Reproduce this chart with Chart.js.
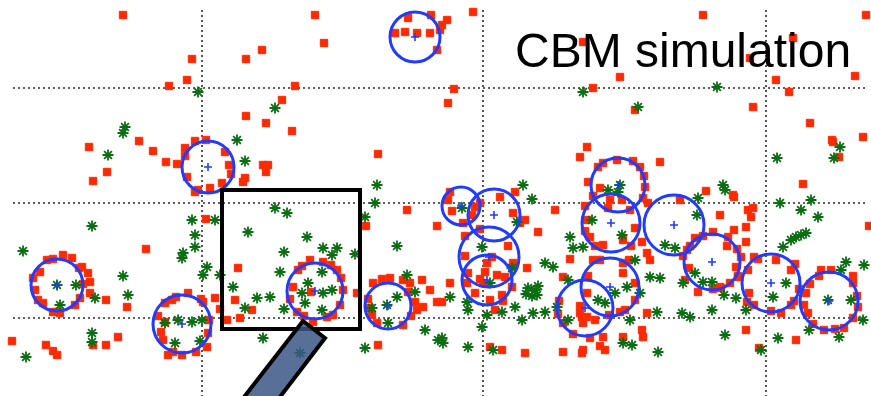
<!DOCTYPE html>
<html>
<head>
<meta charset="utf-8">
<script src="https://cdn.jsdelivr.net/npm/chart.js@4/dist/chart.umd.min.js"></script>
<style>
  html, body { margin: 0; padding: 0; background: #ffffff; }
  #wrap { width: 871px; height: 396px; }
</style>
</head>
<body>
<div id="wrap"><canvas id="cbm" width="871" height="396"></canvas></div>
<script>
// Reference grid positions (data units)
const gridX = [189, 470, 753];
const gridY = [78, 193, 308];

// Particles of the first species (red squares), [x, y]
const redParticles = [
  [110,381],[179,337],[174,316],[156,310],[233,337],[249,346],[282,310],[269,296],[233,280],[253,273],[279,265],[76,249],[126,255],[140,245],[153,234],[164,232],[94,224],[80,215],[250,231],[255,231],[253,224],[232,218],[230,214],
  [172,248],[182,255],[193,256],[212,244],[216,231],[174,219],[182,204],[197,208],[209,213],[172,240],[218,222],[185,206],
  [302,381],[311,353],[382,363],[392,364],[417,363],[418,381],[395,378],[434,376],[429,371],[427,366],[404,363],[424,346],[460,384],[441,307],[435,293],[365,242],[570,354],[574,249],[567,239],[580,308],
  [690,381],[853,381],[607,319],[780,358],[737,338],[763,316],[776,304],[842,320],[740,289],[797,273],[819,256],[850,259],[826,239],[622,286],[647,234],[790,212],[693,205],[720,201],
  [133,147],[75,123],[77,114],[77,103],[93,96],[114,89],[-1,55],[33,51],[40,45],[44,41],[80,51],[93,51],[105,59],
  [34,136],[50,141],[59,138],[27,124],[22,106],[30,93],[40,84],[47,83],[67,98],[69,129],[40,137],[66,128],[70,112],[62,91],[45,84],[20,118],[25,96],
  [193,177],[225,128],[222,96],[239,86],[227,78],[214,76],[202,98],[207,87],
  [152,93],[175,103],[190,94],[152,74],[150,56],[155,41],[169,41],[194,49],[195,63],[159,96],[145,80],[148,64],[160,44],[183,44],[196,76],[188,97],[163,99],
  [394,186],[424,170],[353,170],[365,51],
  [297,136],[310,134],[324,126],[330,106],[327,91],[314,79],[300,74],[284,84],[280,109],[285,126],[298,104],[289,130],[318,131],[328,118],[320,81],[291,80],[277,97],
  [344,103],[360,113],[377,118],[390,116],[397,113],[409,116],[417,106],[402,94],[404,86],[410,89],[424,94],[359,81],[390,71],[369,117],[357,88],[364,73],[355,97],[395,104],[398,80],
  [542,186],[525,164],[557,137],[502,204],[487,199],[437,204],[435,196],[462,189],[459,181],[512,176],[514,128],[437,113],[429,94],[482,86],[472,124],[484,121],[479,139],[470,113],[550,119],[477,49],[489,46],[512,43],[550,44],[569,43],[569,79],
  [467,193],[500,183],[507,173],[467,167],[439,185],[450,173],
  [455,123],[492,119],[454,113],[499,109],[462,103],[489,101],[477,96],[467,117],[474,133],[495,150],[500,133],[452,140],[452,160],[490,95],
  [707,181],[714,150],[585,229],[604,236],[627,229],[632,209],[575,214],[587,208],[597,196],[609,196],[617,186],[574,176],[577,159],[590,151],[610,156],[629,154],[634,143],[637,136],[667,196],[635,193],[674,146],[682,158],[700,164],[715,159],[685,104],[707,109],[587,136],[610,133],[610,123],[622,96],[607,84],[574,103],[574,79],[582,76],[634,83],[629,66],[630,59],[590,59],[592,46],[570,46],[610,59],
  [590,233],[620,235],[631,220],[580,200],[595,188],[630,198],[572,190],[572,165],[582,150],[618,150],[622,168],
  [575,120],[580,136],[616,136],[622,113],[612,86],[596,81],[546,95],[550,73],[560,62],[545,82],
  [820,254],[856,170],[721,199],[735,186],[738,179],[733,169],[721,166],[733,154],[741,139],[763,136],[778,126],[736,103],[741,91],[768,83],[778,91],[808,126],[818,126],[840,113],[793,103],[795,83],[811,66],[831,68],[845,89],[733,66],[783,56],[746,48],[723,129],[725,119],
  [735,126],[745,137],[782,132],[786,107],[781,95],[758,85],[734,94],
  [797,112],[806,120],[840,120],[844,100],[840,78],[822,67],[800,72],[791,91],
  [587,50],[740,188],
  [670,140],[677,150],[724,147],[717,113],[700,107],[690,160],[728,139],[725,120],[708,108],[676,128],[672,116],
  [567,83],[570,73],[577,58],[567,90]
];

// Particles of the second species (green asterisks), [x, y]
const greenParticles = [
  [185,304],[262,288],[112,269],[110,263],[95,241],[224,256],[232,235],[570,304],[364,211],[510,211],[704,309],[625,289],[827,249],[821,238],[764,238],[710,211],[712,206],[607,211],[605,204],[595,206],[798,196],
  [79,170],[10,145],[110,120],[115,101],[82,98],[44,111],[63,111],[47,91],[79,63],[79,54],[13,39],
  [179,176],[202,176],[182,161],[182,149],[170,143],[169,138],[194,129],[190,121],[207,121],[262,188],[274,183],[235,164],[271,144],[267,124],[220,109],[244,98],[257,99],[232,88],[271,87],[179,74],[165,76],[189,76],[162,53],[250,58],[152,73],[187,55],
  [362,193],[352,179],[294,159],[310,148],[324,148],[319,141],[342,142],[384,150],[394,121],[402,104],[384,99],[359,88],[374,91],[375,73],[412,66],[352,48],[309,124],[295,113],[289,103],[319,106],[310,103],[292,93],[309,86],[287,43],[425,56],
  [519,197],[449,188],[504,174],[469,149],[557,159],[560,148],[532,133],[540,129],[555,116],[515,108],[522,106],[519,100],[513,102],[525,110],[524,101],[437,99],[454,94],[455,86],[474,81],[489,84],[502,89],[509,76],[532,84],[544,89],[469,69],[429,58],[455,49],[555,76],[480,46],[499,128],[477,113],[430,53],[520,83],
  [685,198],[684,181],[579,176],[609,161],[570,149],[622,136],[652,151],[662,148],[637,119],[647,118],[670,113],[682,123],[690,114],[699,114],[614,109],[602,103],[585,96],[592,93],[627,103],[644,84],[669,83],[677,79],[699,86],[617,76],[610,53],[619,51],[645,44],[712,61],
  [767,193],[788,186],[805,179],[783,159],[788,161],[778,156],[793,163],[770,149],[833,134],[851,131],[828,126],[773,113],[760,99],[815,96],[838,96],[733,86],[723,98],[711,101],[796,66],[850,76],[826,59],[765,58],[748,46]
];

// Detected clusters: centre and radius (data units)
const clusterX = [402, 195, 44, 169, 302, 375, 448, 481, 476, 474, 605, 598, 661, 699, 597, 572, 758, 816];
const clusterY = [359, 229, 111, 72, 105, 90, 190, 181, 139, 116, 211, 173, 171, 134, 109, 88, 113, 95];
const clusterR = [25, 26, 26, 29, 28, 23, 19, 26, 30, 25, 27, 29, 30, 28, 29, 28, 29, 29];

// Zoom frame and pointer (data units)
const frameBox = { x0: 209, x1: 347, y0: 67, y1: 206 };
const pointerShape = [[290, 75], [312, 58], [257, -14], [221, -14]];
const titleText = 'CBM simulation';
const titleAnchor = [502, 329];

const toXY = p => ({ x: p[0], y: p[1] });
const clusterPoints = clusterX.map((x, i) => ({ x, y: clusterY[i] }));

const decorations = {
  id: 'decorations',
  beforeDatasetsDraw(chart) {
    const { ctx, chartArea: a, scales: { x, y } } = chart;
    ctx.save();
    ctx.strokeStyle = '#2a2a2a';
    ctx.lineWidth = 1.6;
    ctx.setLineDash([2, 3]);
    gridX.forEach(v => {
      const p = Math.round(x.getPixelForValue(v));
      ctx.beginPath(); ctx.moveTo(p, a.top); ctx.lineTo(p, a.bottom); ctx.stroke();
    });
    gridY.forEach(v => {
      const p = Math.round(y.getPixelForValue(v));
      ctx.beginPath(); ctx.moveTo(a.left, p); ctx.lineTo(a.right - 3, p); ctx.stroke();
    });
    ctx.restore();
  },
  afterDatasetsDraw(chart) {
    const { ctx, scales: { x, y } } = chart;
    ctx.save();
    // zoom frame
    ctx.strokeStyle = '#000';
    ctx.lineWidth = 4;
    ctx.strokeRect(
      x.getPixelForValue(frameBox.x0), y.getPixelForValue(frameBox.y1),
      x.getPixelForValue(frameBox.x1) - x.getPixelForValue(frameBox.x0),
      y.getPixelForValue(frameBox.y0) - y.getPixelForValue(frameBox.y1)
    );
    // pointer bar
    ctx.beginPath();
    pointerShape.forEach((p, i) => {
      const px = x.getPixelForValue(p[0]), py = y.getPixelForValue(p[1]);
      if (i === 0) ctx.moveTo(px, py); else ctx.lineTo(px, py);
    });
    ctx.closePath();
    ctx.fillStyle = 'rgba(59, 87, 134, 0.85)';
    ctx.fill();
    ctx.lineWidth = 4;
    ctx.lineJoin = 'miter';
    ctx.stroke();
    // caption
    ctx.fillStyle = '#000';
    ctx.font = '48px "Liberation Sans", Arial, sans-serif';
    ctx.textBaseline = 'alphabetic';
    ctx.fillText(titleText, x.getPixelForValue(titleAnchor[0]), y.getPixelForValue(titleAnchor[1]));
    ctx.restore();
  }
};

new Chart(document.getElementById('cbm'), {
  type: 'scatter',
  data: {
    datasets: [
      {
        label: 'cluster centres',
        data: clusterPoints,
        pointStyle: 'cross',
        pointRadius: 4,
        borderColor: '#1f3cff',
        borderWidth: 1.6,
        clip: false
      },
      {
        label: 'clusters',
        data: clusterPoints,
        pointStyle: 'circle',
        pointRadius: ctx => {
          const s = ctx.chart.scales.x;
          const i = ctx.dataIndex;
          return Math.abs(s.getPixelForValue(clusterX[i] + clusterR[i]) - s.getPixelForValue(clusterX[i]));
        },
        backgroundColor: 'rgba(0,0,0,0)',
        borderColor: '#1f3cff',
        borderWidth: 3,
        clip: false
      },
      {
        label: 'species B',
        data: greenParticles.map(toXY),
        pointStyle: 'star',
        pointRadius: 5.5,
        borderColor: '#0b6e12',
        backgroundColor: '#0b6e12',
        borderWidth: 1.8,
        clip: false
      },
      {
        label: 'species A',
        data: redParticles.map(toXY),
        pointStyle: 'rect',
        pointRadius: 5.2,
        borderColor: '#ff2a00',
        backgroundColor: '#ff2a00',
        borderWidth: 1,
        clip: false
      }
    ]
  },
  options: {
    responsive: false,
    animation: false,
    events: [],
    layout: { autoPadding: false, padding: { left: 13, top: 10, right: 0, bottom: 0 } },
    plugins: { legend: { display: false }, tooltip: { enabled: false } },
    scales: {
      x: { type: 'linear', min: 0, max: 858, display: false },
      y: { type: 'linear', min: 0, max: 386, display: false }
    }
  },
  plugins: [decorations]
});
</script>
</body>
</html>
